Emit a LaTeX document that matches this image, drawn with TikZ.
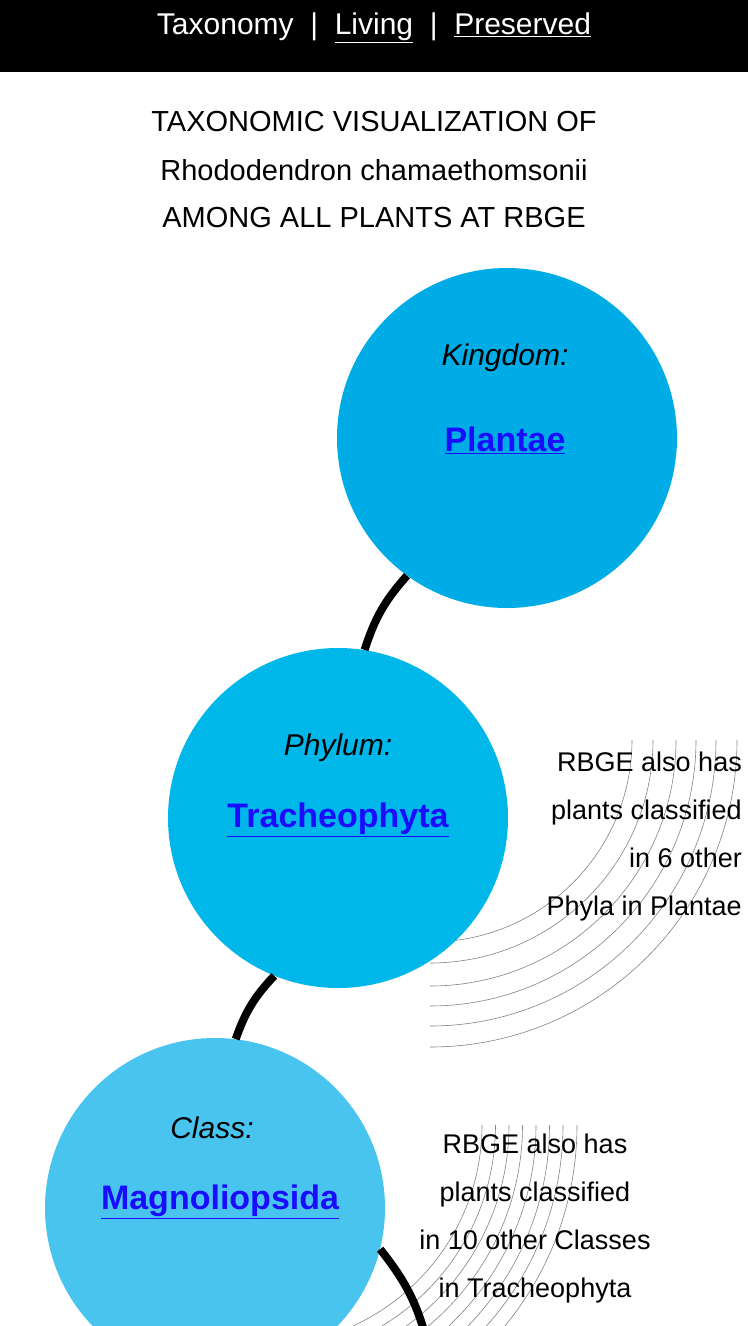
\documentclass[tikz,border=0pt]{standalone}
\usepackage{fontspec}
\setmainfont{Liberation Sans}
\usepackage{xcolor}
\definecolor{kingdomblue}{RGB}{0,172,230}
\definecolor{phylumblue}{RGB}{0,183,234}
\definecolor{classblue}{RGB}{72,196,238}
\definecolor{linkblue}{RGB}{26,13,255}
\definecolor{fangray}{RGB}{130,130,130}

\tikzset{
  rank/.style={circle,minimum size=340pt,inner sep=0pt},
  ranklabel/.style={font=\fontsize{30}{34}\selectfont\itshape},
  taxon/.style={font=\fontsize{34}{38}\selectfont\bfseries,text=linkblue},
  link/.style={line width=8pt,black},
  fan/.style={fangray,line width=0.6pt},
  note/.style={font=\fontsize{27}{48}\selectfont,inner sep=0pt}
}

\begin{document}
\begin{tikzpicture}[x=1pt,y=-1pt]

\useasboundingbox (0,0) rectangle (748,1326);
\clip (0,0) rectangle (748,1326);

% header bar
\fill[black] (0,0) rectangle (748,72);
\node (menu) at (374,28) [text=white,font=\fontsize{30}{34}\selectfont]
  {Taxonomy \;|\; \underline{Living} \;|\; \underline{Preserved}};

% title
\node (title1) at (374,122) [font=\fontsize{29}{34}\selectfont] {TAXONOMIC VISUALIZATION OF};
\node (title2) at (374,170) [font=\fontsize{29}{34}\selectfont] {Rhododendron chamaethomsonii};
\node (title3) at (374,218) [font=\fontsize{29}{34}\selectfont] {AMONG ALL PLANTS AT RBGE};

% fans of other taxa
\foreach \r in {202,223,246,266,286,307}
  \draw[fan] (430+\r,740) arc[start angle=0,end angle=90,radius=\r];
\foreach \r in {221,234.5,248,261.5,275,288.5,302,316}
  \draw[fan] (261+\r,1125) arc[start angle=0,end angle=90,radius=\r];
\foreach \r in {286,289.5,293,296.5,300,303.5,307,310.5,314,317.5,321,324.5}
  \draw[fan] (292-\r,1510) arc[start angle=180,end angle=90,radius=\r];

% circles
\node[rank,fill=kingdomblue] (kingdom) at (507,438) {};
\node[rank,fill=phylumblue] (phylum) at (338,818) {};
\node[rank,fill=classblue] (class) at (215,1208) {};
\coordinate (order) at (428,1345);

% connectors
\draw[link] (kingdom.234) to[bend right=12] (phylum.81);
\draw[link] (phylum.248) to[bend right=12] (class.83);
\draw[link] (class.-14) to[bend left=12] (order);

% labels
\node[ranklabel] (kingdomlbl) at (505,358) {Kingdom:};
\node[taxon] (kingdomname) at (505,440) {\underline{Plantae}};
\node[ranklabel] (phylumlbl) at (338,748) {Phylum:};
\node[taxon] (phylumname) at (338,820) {\underline{Tracheophyta}};
\node[ranklabel] (classlbl) at (212,1128) {Class:};
\node[taxon] (classname) at (220,1202) {\underline{Magnoliopsida}};

% notes
\node[note,align=right,anchor=north east] (phylumnote) at (742,752)
  {RBGE also has\\plants classified\\in 6 other\\Phyla in Plantae};
\node[note,align=center,anchor=north] (classnote) at (535,1134)
  {RBGE also has\\plants classified\\in 10 other Classes\\in Tracheophyta};

\end{tikzpicture}
\end{document}
